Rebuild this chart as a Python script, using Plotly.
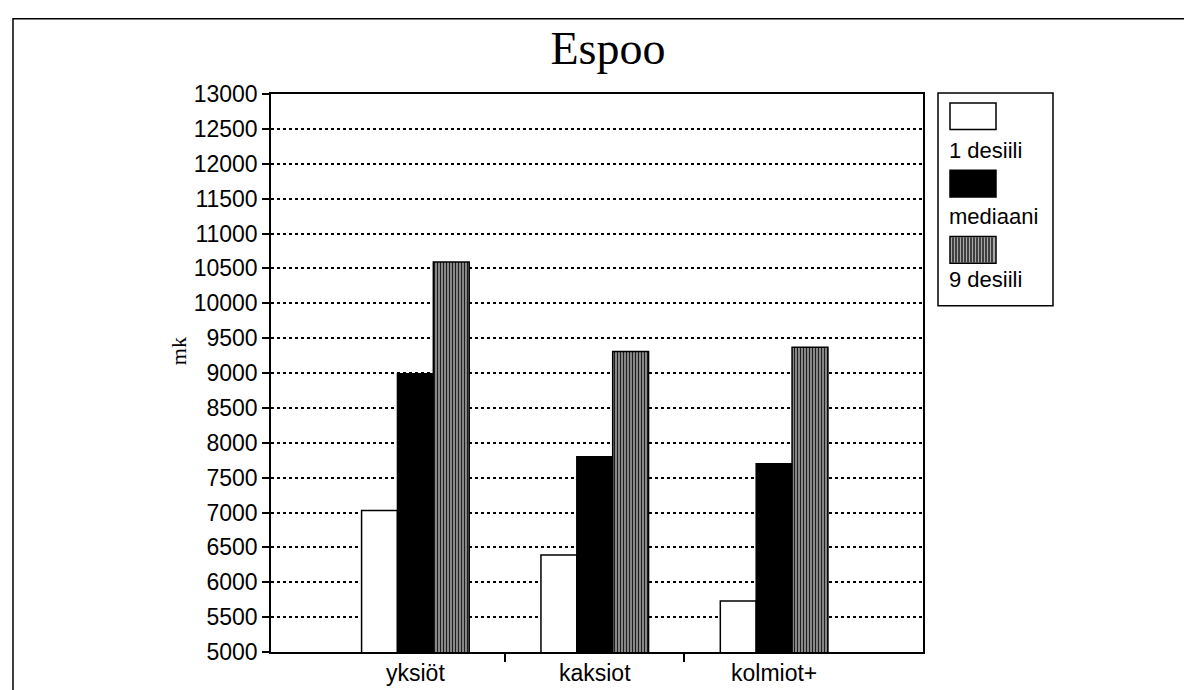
import plotly.graph_objects as go
import numpy as np

# ---- data ----
categories = ["yksiöt", "kaksiot", "kolmiot+"]
series_names = ["1 desiili", "mediaani", "9 desiili"]
desiili_1 = [7030, 6390, 5730]
mediaani = [8990, 7800, 7700]
desiili_9 = [10590, 9310, 9370]
y_ticks = list(range(5000, 13001, 500))
y_ticktext = [str(v) for v in y_ticks]

# ---- layout geometry (pixels) ----
W, H = 1192, 690
L, R, T, B = 263, 277, 86, 40
PW, PH = W - L - R, H - T - B


def px(x):
    return (x - L) / PW


def py(y):
    return (H - B - y) / PH


SANS = "Liberation Sans, Arial, sans-serif"
SERIF = "Liberation Serif, Times New Roman, serif"

xpos = np.arange(len(categories))

stripe = dict(shape="|", fgcolor="#1e1e1e", bgcolor="#a9a9a9",
              size=3, solidity=0.5, fillmode="replace")

fig = go.Figure()
fig.add_trace(go.Bar(
    x=xpos, y=desiili_1, name=series_names[0],
    marker=dict(color="white", line=dict(color="black", width=1.5)),
))
fig.add_trace(go.Bar(
    x=xpos, y=mediaani, name=series_names[1],
    marker=dict(color="black", line=dict(color="black", width=1.5)),
))
fig.add_trace(go.Bar(
    x=xpos, y=desiili_9, name=series_names[2],
    marker=dict(color="#8a8a8a", line=dict(color="black", width=1.5),
                pattern=stripe),
))

fig.update_layout(
    width=W, height=H,
    margin=dict(l=L, r=R, t=T, b=B),
    paper_bgcolor="white", plot_bgcolor="white",
    barmode="group", bargap=0.4, bargroupgap=0,
    showlegend=False,
    title=dict(text="Espoo", x=px(600), xref="paper", xanchor="center",
               y=1 - 40 / H, yref="container", yanchor="middle",
               font=dict(family=SERIF, size=46, color="black")),
    font=dict(family=SANS, color="black"),
)

fig.update_xaxes(
    range=[-0.805, 2.83],
    tickmode="array", tickvals=xpos, ticktext=categories,
    ticks="", tickfont=dict(family=SANS, size=23, color="black"),
    showgrid=False, zeroline=False,
    showline=True, linecolor="black", linewidth=1.5, mirror=True,
    minor=dict(tickmode="array", tickvals=list(xpos[:-1] + 0.5),
               ticks="outside", ticklen=8, tickwidth=1.5,
               tickcolor="black", showgrid=False),
)
fig.update_yaxes(
    range=[5000, 13000],
    tickmode="array", tickvals=y_ticks, ticktext=y_ticktext,
    ticks="outside", ticklen=7, tickwidth=1.5, tickcolor="black",
    tickfont=dict(family=SANS, size=23, color="black"),
    showgrid=True, gridcolor="black", gridwidth=1.5, griddash="dot",
    zeroline=False,
    showline=True, linecolor="black", linewidth=1.5, mirror=True,
)

shapes = []
# outer frame of the whole chart
shapes.append(dict(type="rect", xref="paper", yref="paper",
                   x0=px(5), x1=px(1187), y0=py(702), y1=py(10),
                   line=dict(color="black", width=1.5), fillcolor="rgba(0,0,0,0)"))
# custom legend box
shapes.append(dict(type="rect", xref="paper", yref="paper",
                   x0=px(930), x1=px(1045), y0=py(300), y1=py(85),
                   line=dict(color="black", width=1.5), fillcolor="white"))
sw_x0, sw_x1 = 942, 988
swatches = [(95, 122, "white"), (163, 190, "black"), (230, 257, "#a9a9a9")]
for (y0, y1, col) in swatches:
    shapes.append(dict(type="rect", xref="paper", yref="paper",
                       x0=px(sw_x0), x1=px(sw_x1), y0=py(y1), y1=py(y0),
                       line=dict(color="black", width=1.5), fillcolor=col))
# vertical stripes in the patterned legend swatch
for xs in range(sw_x0 + 3, sw_x1 - 1, 3):
    shapes.append(dict(type="line", xref="paper", yref="paper",
                       x0=px(xs), x1=px(xs), y0=py(256), y1=py(231),
                       line=dict(color="#1e1e1e", width=1.5)))
fig.update_layout(shapes=shapes)

annotations = []
for name, yc in zip(series_names, [143, 210, 273]):
    annotations.append(dict(text=name, xref="paper", yref="paper",
                            x=px(939), y=py(yc), xanchor="left", yanchor="middle",
                            showarrow=False,
                            font=dict(family=SANS, size=22, color="black")))
annotations.append(dict(text="mk", xref="paper", yref="paper",
                        x=px(170), y=py(346), xanchor="center", yanchor="middle",
                        textangle=-90, showarrow=False,
                        font=dict(family=SERIF, size=22, color="black")))
fig.update_layout(annotations=annotations)

fig.write_html("out.html")
